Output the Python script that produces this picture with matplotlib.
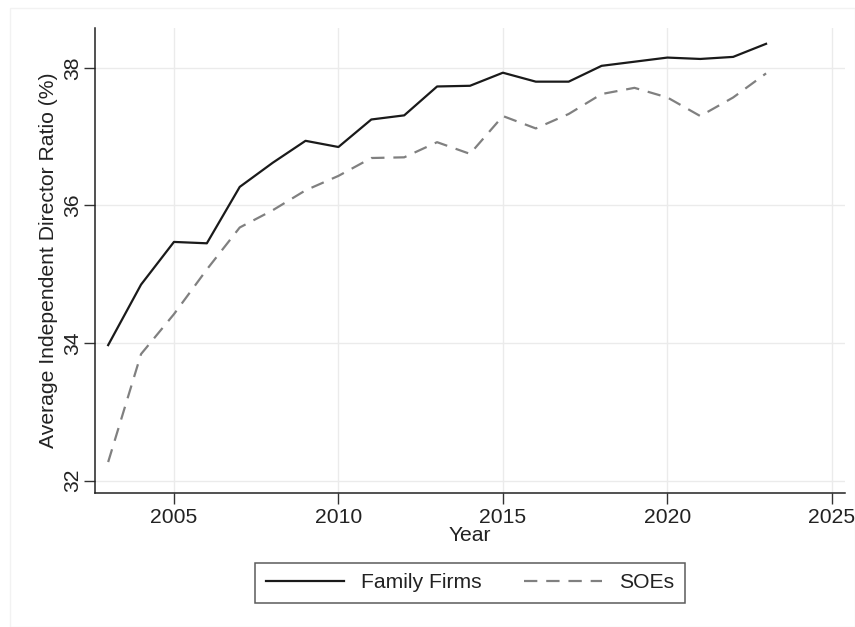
import matplotlib
matplotlib.use("Agg")
import matplotlib.pyplot as plt
from matplotlib.patches import Rectangle

years = list(range(2003, 2024))
family_firms = [33.97, 34.85, 35.47, 35.45, 36.27, 36.62, 36.94, 36.85, 37.25, 37.31,
                37.73, 37.74, 37.93, 37.80, 37.80, 38.03, 38.09, 38.15, 38.13, 38.16, 38.35]
soes = [32.27, 33.84, 34.42, 35.07, 35.68, 35.93, 36.22, 36.43, 36.69, 36.70,
        36.92, 36.75, 37.30, 37.12, 37.33, 37.62, 37.71, 37.57, 37.30, 37.57, 37.92]
x_ticks = [2005, 2010, 2015, 2020, 2025]
y_ticks = [32, 34, 36, 38]

plt.rcParams['font.family'] = ['Liberation Sans', 'DejaVu Sans']
FS = 15.2

W, H = 855, 627
fig = plt.figure(figsize=(W / 100, H / 100), dpi=100)
fig.patch.set_facecolor('white')

# faint outer region border
fig.patches.append(Rectangle((10 / W, 0.0), (W - 10) / W, (H - 8) / H, transform=fig.transFigure,
                             fill=False, edgecolor='#f2f2f2', linewidth=1.0))

left, right, top, bottom = 95, 845, 28, 493
ax = fig.add_axes([left / W, 1 - bottom / H, (right - left) / W, (bottom - top) / H])

ax.plot(years, family_firms, color='#1a1a1a', lw=1.6, label='Family Firms')
ax.plot(years, soes, color='#808080', lw=1.6, ls=(0, (6, 4)), label='SOEs')

ax.set_xlim(2002.6, 2025.4)
ax.set_ylim(31.82, 38.58)
ax.set_xticks(x_ticks)
ax.set_yticks(y_ticks)
ax.set_yticklabels([str(v) for v in y_ticks], rotation=90, va='center')
ax.tick_params(axis='both', labelsize=FS, length=8, width=1, color='#333333', direction='out',
               labelcolor='#222222')
ax.tick_params(axis='x', pad=3)
ax.tick_params(axis='y', pad=1)
ax.grid(True, color='#ebebeb', lw=1)
ax.set_axisbelow(True)
for s in ['top', 'right']:
    ax.spines[s].set_visible(False)
for s in ['left', 'bottom']:
    ax.spines[s].set_color('#222222')
    ax.spines[s].set_linewidth(1.1)

ax.set_xlabel('Year', fontsize=FS, color='#222222', labelpad=-1)
ax.set_ylabel('Average Independent Director Ratio (%)', fontsize=FS, color='#222222', labelpad=4)

leg = ax.legend(loc='center', bbox_to_anchor=(470 / W, 1 - 583 / H), bbox_transform=fig.transFigure,
                ncol=2, fontsize=FS, frameon=True, fancybox=False, handlelength=3.7,
                columnspacing=2.0, borderpad=0.5, handletextpad=0.8)
leg.get_frame().set_edgecolor('#333333')
leg.get_frame().set_linewidth(1.1)
for t in leg.get_texts():
    t.set_color('#222222')

fig.savefig('out.png', dpi=100, facecolor='white')
